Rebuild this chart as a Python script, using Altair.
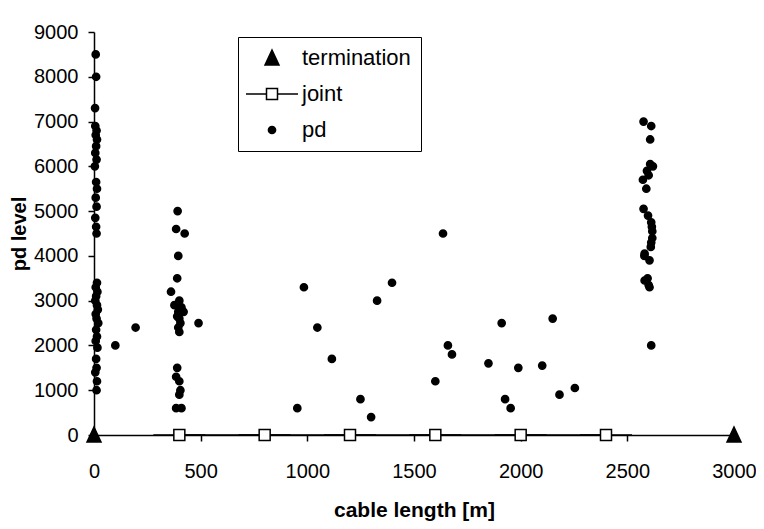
import altair as alt
import pandas as pd

# ---- data ----
term_x = [0, 3000]
term_y = [0, 0]

joint_x = [400, 800, 1200, 1600, 2000, 2400]
joint_y = [0, 0, 0, 0, 0, 0]

pd_x = [
    # cluster at the start of the cable
    8, 10, 5, 6, 12, 8, 14, 10, 6, 12, 4, 10, 14, 8, 12, 6, 10, 12,
    14, 8, 16, 10, 6, 14, 18, 8, 12, 20, 10, 14, 8, 16, 10, 12, 6, 14, 12,
    100, 195,
    # cluster at the first joint (400 m)
    392, 385, 425, 395, 390, 361, 377, 400, 410, 395, 420, 390, 400, 405,
    395, 400, 390, 385, 400, 405, 400, 385, 410, 490,
    # scattered
    953, 984, 1047, 1115, 1249, 1299, 1327, 1397, 1636, 1600, 1659, 1678,
    1849, 1911, 1927, 1953, 1989, 2101, 2150, 2182, 2254,
    # cluster near 2600 m
    2576, 2612, 2607, 2607, 2620, 2592, 2600, 2573, 2589, 2576, 2597, 2612,
    2615, 2617, 2617, 2612, 2610, 2581, 2580, 2604, 2595, 2581, 2604, 2600, 2612,
]
pd_y = [
    8500, 8000, 7300, 6900, 6800, 6700, 6600, 6450, 6300, 6150, 6000, 5650,
    5500, 5300, 5100, 4850, 4650, 4500,
    3400, 3300, 3200, 3100, 3000, 2900, 2800, 2700, 2600, 2500, 2350, 2200,
    2100, 1950, 1700, 1500, 1400, 1200, 1000,
    2000, 2400,
    5000, 4600, 4500, 4000, 3500, 3200, 2900, 3000, 2850, 2750, 2750, 2650,
    2600, 2500, 2400, 2300, 1500, 1300, 1200, 1000, 900, 600, 600, 2500,
    600, 3300, 2400, 1700, 800, 400, 3000, 3400, 4500, 1200, 2000, 1800,
    1600, 2500, 800, 600, 1500, 1550, 2600, 900, 1050,
    7000, 6900, 6600, 6050, 6000, 5900, 5800, 5700, 5500, 5050, 4900, 4750,
    4650, 4550, 4400, 4300, 4200, 4050, 4000, 3900, 3500, 3450, 3300, 3350, 2000,
]

series_order = ["termination", "joint", "pd"]

# ---- tables ----
df = pd.concat([
    pd.DataFrame({"x": term_x, "y": term_y, "series": "termination"}),
    pd.DataFrame({"x": joint_x, "y": joint_y, "series": "joint"}),
    pd.DataFrame({"x": pd_x, "y": pd_y, "series": "pd"}),
], ignore_index=True)
joint_df = pd.DataFrame({"x": joint_x, "y": joint_y})

FONT = "Liberation Sans"

# custom symbols (unit = sqrt(size)/2 px)
tri_path = "M0,-0.8L0.7,0.7L-0.7,0.7Z"
joint_path = "M-2.6,0H-0.55M0.55,0H2.6M-0.55,-0.55H0.55V0.55H-0.55Z"
dot_path = "M0.36,0A0.36,0.36,0,1,1,-0.36,0A0.36,0.36,0,1,1,0.36,0Z"

x_enc = alt.X("x:Q", scale=alt.Scale(domain=[0, 3000], nice=False),
              axis=alt.Axis(values=[0, 500, 1000, 1500, 2000, 2500, 3000],
                            format="d", labelFlush=False,
                            title="cable length [m]", grid=False,
                            tickSize=6, labelPadding=20, titlePadding=18))
y_enc = alt.Y("y:Q", scale=alt.Scale(domain=[0, 9000], nice=False),
              axis=alt.Axis(values=list(range(0, 9001, 1000)),
                            format="d", labelFlush=False,
                            title="pd level", grid=False, titleFontSize=20,
                            tickSize=6, labelPadding=10, titlePadding=4))

legend = alt.Legend(title=None, orient="none", legendX=144, legendY=5,
                    strokeColor="black", padding=10, fillColor="white",
                    symbolOffset=13, labelOffset=19, rowPadding=14,
                    symbolSize=400, symbolStrokeWidth=1.5, symbolOpacity=1,
                    labelFontSize=22, labelFont=FONT, labelColor="black")

line = alt.Chart(joint_df).mark_line(color="black", strokeWidth=1.5).encode(
    x=x_enc, y=y_enc)

points = alt.Chart(df).mark_point(filled=False, strokeWidth=1.5,
                                  size=400, opacity=1).encode(
    x=x_enc, y=y_enc,
    shape=alt.Shape("series:N",
                    scale=alt.Scale(domain=series_order,
                                    range=[tri_path, joint_path, dot_path]),
                    legend=legend),
    fill=alt.Fill("series:N",
                  scale=alt.Scale(domain=series_order,
                                  range=["black", "white", "black"]),
                  legend=legend),
    stroke=alt.Stroke("series:N",
                      scale=alt.Scale(domain=series_order,
                                      range=["black", "black", "black"]),
                      legend=legend),
)

chart = alt.layer(line, points).properties(
    width=640, height=403,
    autosize=alt.AutoSizeParams(type="none"),
    padding={"left": 86, "top": 24, "right": 22, "bottom": 86},
    background="white",
).configure_view(stroke=None).configure_axis(
    labelFont=FONT, titleFont=FONT, labelFontSize=20, titleFontSize=21,
    titleFontWeight="bold", labelColor="black", titleColor="black",
    domainColor="black", tickColor="black", domainWidth=1.5, tickWidth=1.5,
)

chart.save("out.html", embed_options={"renderer": "svg", "actions": False})
